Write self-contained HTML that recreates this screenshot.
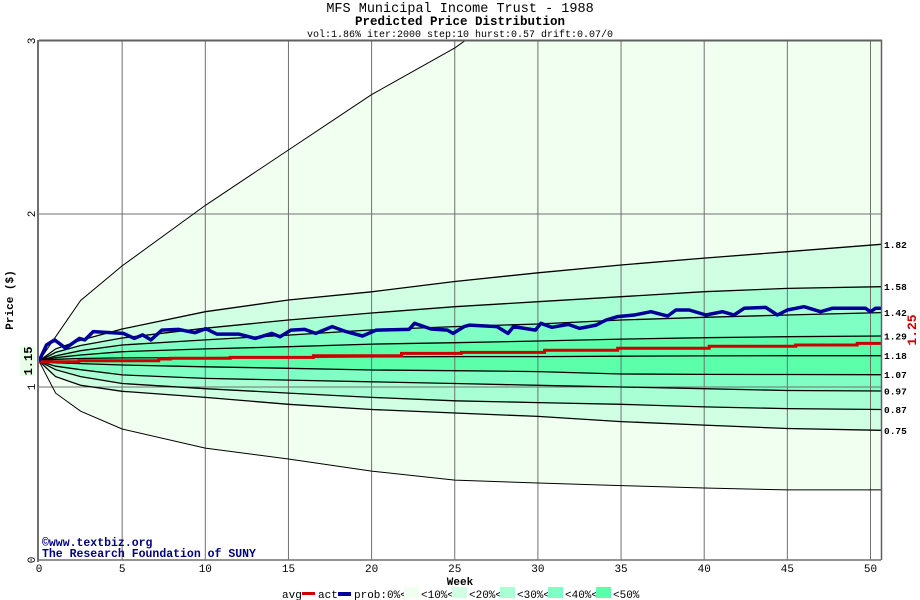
<!DOCTYPE html>
<html><head><meta charset="utf-8"><style>
html,body{margin:0;padding:0;background:#fff;}
svg{display:block;font-family:"Liberation Mono",monospace;}
</style></head><body>
<svg id="chart" width="920" height="600" viewBox="0 0 920 600" xmlns="http://www.w3.org/2000/svg">
<text x="460" y="12" text-anchor="middle" font-size="13.5">MFS Municipal Income Trust - 1988</text>
<text x="460" y="25" text-anchor="middle" font-size="12.5" font-weight="bold">Predicted Price Distribution</text>
<text x="460" y="37" text-anchor="middle" font-size="10">vol:1.86% iter:2000 step:10 hurst:0.57 drift:0.07/0</text>
<g id="plot"></g>
<text transform="translate(13,300) rotate(-90)" text-anchor="middle" font-size="11" font-weight="bold">Price ($)</text>
<rect x="20" y="346" width="15" height="30" fill="#e8ffe8"/>
<text transform="translate(32,361) rotate(-90)" text-anchor="middle" font-size="12" font-weight="bold">1.15</text>
<text transform="translate(916,330) rotate(-90)" text-anchor="middle" font-size="13" font-weight="bold" fill="#cc0000">1.25</text>
<text x="460" y="585" text-anchor="middle" font-size="11" font-weight="bold">Week</text>
<text x="42" y="546" font-size="11.5" font-weight="bold" fill="#000080">©www.textbiz.org</text>
<text x="42" y="557" font-size="11.5" font-weight="bold" fill="#000080">The Research Foundation of SUNY</text>
<g font-size="11">
<text x="282" y="598">avg</text>
<rect x="302" y="592" width="13" height="3" fill="#cc0000"/>
<text x="318" y="598">act</text>
<rect x="338" y="592" width="13" height="4" fill="#000099"/>
<text x="354" y="598">prob:0%&lt;</text>
<rect x="404" y="587" width="15" height="11" fill="#f0fff0"/>
<text x="421" y="598">&lt;10%&lt;</text>
<rect x="452" y="587" width="15" height="11" fill="#d0ffe4"/>
<text x="469" y="598">&lt;20%&lt;</text>
<rect x="500" y="587" width="15" height="11" fill="#a8ffd4"/>
<text x="517" y="598">&lt;30%&lt;</text>
<rect x="548" y="587" width="15" height="11" fill="#80ffc4"/>
<text x="565" y="598">&lt;40%&lt;</text>
<rect x="596" y="587" width="15" height="11" fill="#5cffaa"/>
<text x="613" y="598">&lt;50%</text>
</g>
</svg>
<script>
const bandWeeks = [0,1,2.5,5,10,15,20,25,30,35,40,45,50.65];
const lineMax = [1.15,1.29,1.50,1.70,2.05,2.37,2.69,2.96,3.3,3.55,3.8,4.05,4.3];
const lineP10 = [1.15,1.22,1.27,1.335,1.435,1.503,1.55,1.61,1.66,1.705,1.745,1.782,1.825];
const lineP20 = [1.15,1.2,1.24,1.283,1.34,1.387,1.428,1.464,1.493,1.522,1.551,1.57,1.58];
const lineP30 = [1.15,1.18,1.21,1.243,1.272,1.30,1.33,1.349,1.364,1.387,1.403,1.416,1.43];
const lineP40 = [1.15,1.17,1.185,1.204,1.22,1.233,1.248,1.256,1.266,1.277,1.285,1.291,1.295];
const lineP50 = [1.15,1.16,1.165,1.168,1.17,1.172,1.174,1.176,1.176,1.178,1.18,1.181,1.181];
const lineP60 = [1.15,1.14,1.135,1.127,1.117,1.108,1.098,1.094,1.089,1.075,1.073,1.072,1.071];
const lineP70 = [1.15,1.12,1.10,1.07,1.05,1.04,1.03,1.02,1.01,1.0,0.99,0.98,0.977];
const lineP80 = [1.15,1.10,1.06,1.02,0.99,0.965,0.94,0.92,0.91,0.90,0.885,0.875,0.87];
const lineP90 = [1.15,1.06,1.01,0.975,0.94,0.90,0.87,0.85,0.83,0.80,0.78,0.76,0.75];
const lineMin = [1.15,0.965,0.86,0.757,0.647,0.584,0.514,0.462,0.445,0.43,0.416,0.405,0.405];
const endLabels = ["1.82","1.58","1.42","1.29","1.18","1.07","0.97","0.87","0.75"];
const avgWeeks = [0,2.4,7.2,7.9,11.5,16.5,21.8,25.4,30.4,34.8,40.3,45.5,49.2,50.65];
const avgValues = [1.146,1.152,1.162,1.166,1.171,1.181,1.194,1.2,1.212,1.224,1.235,1.243,1.252,1.252];
const actWeeks = [0,0.45,0.94,1.6,2.43,2.76,3.26,4.41,5.07,5.73,6.23,6.73,7.39,8.38,9.37,10.03,10.69,12.01,13.0,13.99,14.49,15.15,15.98,16.64,17.63,18.46,19.45,20.27,22.25,22.58,23.57,24.56,24.9,25.56,25.89,27.54,28.2,28.53,29.85,30.18,30.84,31.83,32.5,33.5,34.1,34.8,35.8,36.8,37.8,38.3,39.1,40.1,41.1,41.8,42.4,43.7,44.4,45.0,46.0,47.0,47.7,49.7,50.0,50.3,50.65];
const actValues = [1.15,1.243,1.272,1.224,1.281,1.272,1.320,1.314,1.310,1.281,1.301,1.272,1.329,1.333,1.314,1.337,1.306,1.306,1.281,1.310,1.291,1.329,1.333,1.310,1.349,1.320,1.295,1.329,1.333,1.368,1.335,1.329,1.310,1.349,1.358,1.349,1.310,1.349,1.329,1.368,1.345,1.362,1.339,1.358,1.387,1.407,1.416,1.435,1.410,1.445,1.445,1.416,1.435,1.416,1.455,1.460,1.416,1.445,1.464,1.435,1.455,1.455,1.435,1.455,1.455];
const xTicks = [0,5,10,15,20,25,30,35,40,45,50];
const yTicks = [0,1,2,3];

const NS = "http://www.w3.org/2000/svg";
const L = 39, R = 881, T = 41, B = 560;
const xs = w => L + w * 16.63;
const ys = v => B - v * 173;
const plot = document.getElementById('plot');
function mk(tag, attrs, parent) {
  const e = document.createElementNS(NS, tag);
  for (const k in attrs) e.setAttribute(k, attrs[k]);
  (parent || plot).appendChild(e);
  return e;
}
const defs = mk('defs', {});
const cp = mk('clipPath', {id: 'clip'}, defs);
mk('rect', {x: L, y: T, width: R - L, height: B - T}, cp);
const g = mk('g', {'clip-path': 'url(#clip)'});



const lines = [lineMax, lineP10, lineP20, lineP30, lineP40, lineP50, lineP60, lineP70, lineP80, lineP90, lineMin];
const bandColors = ['#f0fff0','#d0ffe4','#a8ffd4','#80ffc4','#5cffaa','#5cffaa','#80ffc4','#a8ffd4','#d0ffe4','#f0fff0'];
const pts = arr => arr.map((v, i) => xs(bandWeeks[i]).toFixed(1) + ',' + ys(v).toFixed(1));
for (let i = 0; i < 10; i++) {
  const p = pts(lines[i]).concat(pts(lines[i + 1]).reverse());
  const poly = mk('polygon', {points: p.join(' '), fill: bandColors[i], stroke: bandColors[i], 'stroke-width': 0.5}, g);
  
  
}
xTicks.forEach(t => {
  if (t === 0) return;
  const ln = mk('line', {x1: xs(t), x2: xs(t), y1: T, y2: B, stroke: '#707070', 'stroke-width': 1}, g);
  
  
});
yTicks.forEach(t => {
  if (t === 0 || t === 3) return;
  const ln = mk('line', {x1: L, x2: R, y1: ys(t), y2: ys(t), stroke: '#707070', 'stroke-width': 1}, g);
  
  
});
lines.forEach((arr, i) => {
  const pl = mk('polyline', {points: pts(arr).join(' '), fill: 'none', stroke: '#000', 'stroke-width': (i === 0 || i === 10) ? 1 : 1.3}, g);
  
  
});
function stepPts(ws, vs) {
  const out = [];
  for (let i = 0; i < ws.length; i++) {
    if (i > 0) out.push(xs(ws[i]).toFixed(1) + ',' + ys(vs[i - 1]).toFixed(1));
    out.push(xs(ws[i]).toFixed(1) + ',' + ys(vs[i]).toFixed(1));
  }
  return out.join(' ');
}
const avg = mk('polyline', {points: stepPts(avgWeeks, avgValues), fill: 'none', stroke: '#cc0000', 'stroke-width': 3}, g);


const act = mk('polyline', {points: actWeeks.map((w, i) => xs(w).toFixed(1) + ',' + ys(actValues[i]).toFixed(1)).join(' '), fill: 'none', stroke: '#000099', 'stroke-width': 3.5, 'stroke-linejoin': 'round'}, g);



const frame = [
  ['line', {x1: L, x2: R + 1, y1: T - 0.5, y2: T - 0.5, stroke: '#606060', 'stroke-width': 2}],
  ['line', {x1: R + 0.5, x2: R + 0.5, y1: T - 1, y2: B, stroke: '#606060', 'stroke-width': 1.5}],
  ['line', {x1: L - 1, x2: L - 1, y1: T - 1, y2: B + 2, stroke: '#707070', 'stroke-width': 2}],
  ['line', {x1: L - 2, x2: R, y1: B, y2: B, stroke: '#707070', 'stroke-width': 1.5}]
];
frame.forEach((f, i) => {
  const e = mk(f[0], f[1]);
  
  
});
xTicks.forEach(t => {
  const tx = mk('text', {x: xs(t), y: 572, 'text-anchor': 'middle', 'font-size': 11});
  
  
  tx.textContent = t;
});
yTicks.forEach(t => {
  const tx = mk('text', {transform: 'translate(35,' + ys(t) + ') rotate(-90)', 'text-anchor': 'middle', 'font-size': 11});
  
  
  tx.textContent = t;
});
endLabels.forEach((lab, i) => {
  const v = lines[i + 1][lines[i + 1].length - 1];
  const tx = mk('text', {x: 884, y: ys(v) + 3.5, 'font-size': 9.5, 'font-weight': 'bold'});
  
  
  tx.textContent = lab;
});
</script>
</body></html>
